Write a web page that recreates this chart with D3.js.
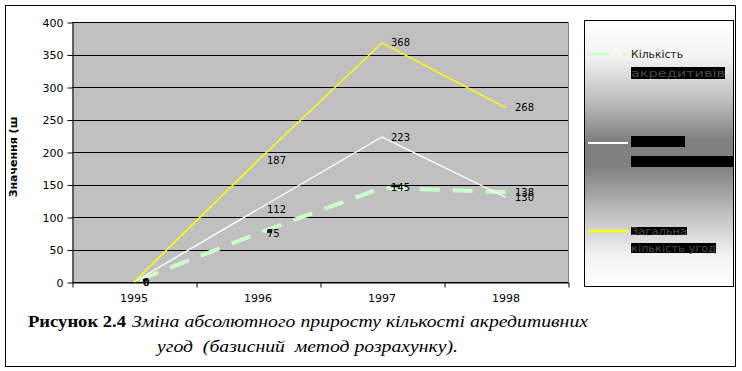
<!DOCTYPE html>
<html><head><meta charset="utf-8">
<script src="https://cdn.jsdelivr.net/npm/d3@7"></script>
<style>body{margin:0;background:#fff}svg{display:block}</style>
</head><body>
<script>
const years = ["1995","1996","1997","1998"];
const seriesGreen = [0, 75, 145, 138];
const seriesWhite = [0, 112, 223, 130];
const seriesYellow = [0, 187, 368, 268];
const yTicks = [0,50,100,150,200,250,300,350,400];
const legendLines = [["Кількість","акредитивів"],["Сума","акредитивів"],["Загальна","кількість угод"]];
const yTitle = "Значення (ш";
const caption1a = "Рисунок 2.4";
const caption1b = "Зміна абсолютного приросту кількості акредитивних";
const caption2 = "угод  (базисний  метод розрахунку).";

const W=742,H=371;
const svg=d3.select("body").append("svg").attr("width",W).attr("height",H);
const defs=svg.append("defs");
const g=defs.append("linearGradient").attr("id","lg").attr("x1",0).attr("y1",0).attr("x2",0).attr("y2",1);
[[0,"#ffffff"],[0.14,"#f2f2f2"],[0.3,"#bdbdbd"],[0.45,"#808080"],[0.55,"#808080"],[0.72,"#bdbdbd"],[0.88,"#f2f2f2"],[1,"#ffffff"]]
 .forEach(([o,c])=>g.append("stop").attr("offset",o).attr("stop-color",c));

// outer border
svg.append("rect").attr("x",5.5).attr("y",5.5).attr("width",730).attr("height",361).attr("fill","#fff").attr("stroke","#000");

const x=d3.scaleBand().domain(years).range([72,568]);
const xEdge=d3.scaleLinear().domain([0,4]).range([72,568]);
const y=d3.scaleLinear().domain([0,400]).range([282,22]);

// plot area
svg.append("rect").attr("x",72).attr("y",22).attr("width",496).attr("height",260).attr("fill","#c0c0c0");
svg.append("line").attr("x1",568.5).attr("x2",568.5).attr("y1",22).attr("y2",282).attr("stroke","#808080");
svg.append("g").selectAll("line").data(yTicks).join("line")
  .attr("x1",72).attr("x2",568).attr("y1",d=>Math.round(y(d))+0.5).attr("y2",d=>Math.round(y(d))+0.5).attr("stroke","#000");

const ya=svg.append("g").attr("transform","translate(72.5,0.5)")
  .call(d3.axisLeft(y).tickValues(yTicks).tickSize(5).tickSizeOuter(0).tickPadding(4));
ya.select(".domain").attr("stroke","#000");
ya.selectAll("text").attr("font-family","DejaVu Sans").attr("font-size",11).attr("fill","#000");

svg.append("g").attr("transform","translate(0.5,282.5)")
  .call(d3.axisBottom(xEdge).tickValues([0,1,2,3,4]).tickFormat("").tickSize(5).tickSizeOuter(0));
const xl=svg.append("g").attr("transform","translate(0,282)")
  .call(d3.axisBottom(x).tickSize(0).tickPadding(12));
xl.select(".domain").remove();
xl.selectAll("text").attr("font-family","DejaVu Sans").attr("font-size",11).attr("fill","#000");

svg.append("text").attr("transform","translate(17,157) rotate(-90)").attr("text-anchor","middle")
  .attr("font-family","DejaVu Sans").attr("font-weight","bold").attr("font-size",11).text(yTitle);

const line=d3.line().x((d,i)=>x(years[i])+x.bandwidth()/2).y(d=>y(d));
svg.append("path").datum(seriesGreen).attr("d",line).attr("fill","none").attr("stroke","#ccffcc").attr("stroke-width",4).attr("stroke-dasharray","20,13").attr("stroke-dashoffset",-6);
svg.append("path").datum(seriesWhite).attr("d",line).attr("fill","none").attr("stroke","#ffffff").attr("stroke-width",1.3);
svg.append("path").datum(seriesYellow).attr("d",line).attr("fill","none").attr("stroke","#ffff00").attr("stroke-width",1.5);

// data labels
const lab=svg.append("g").attr("font-family","DejaVu Sans").attr("font-size",10).attr("fill","#000");
[seriesGreen,seriesWhite,seriesYellow].forEach((s)=>{
  s.forEach((v,i)=>{
    const px=x(years[i])+x.bandwidth()/2;
    lab.append("text").attr("x",px+9).attr("y",y(v)).attr("dy","0.35em").text(v);
  });
});
seriesGreen.forEach((v,i)=>{
  const px=x(years[i])+x.bandwidth()/2;
  if(i<3) svg.append("rect").attr("x",px+9).attr("y",y(v)-3).attr("width",i===0?4:(i===2?9:5)).attr("height",2.5).attr("fill","#000");
});

// legend
svg.append("rect").attr("x",584.5).attr("y",20.5).attr("width",149).attr("height",266).attr("fill","url(#lg)").attr("stroke","#000");
const legY=[54,143,231];
const legStyle=[{c:"#ccffcc",w:3,da:"22,12"},{c:"#ffffff",w:2,da:null},{c:"#ffff00",w:2.5,da:null}];
const boxW=[[52,94],[54,102],[56,85]];
const boxY=[[54.5,73],[141.5,161.5],[231,248]];
const boxH=[[9,12],[11,11],[8,10]];
legY.forEach((ly,i)=>{
  const st=legStyle[i];
  const l=svg.append("line").attr("x1",588).attr("x2",628).attr("y1",ly).attr("y2",ly).attr("stroke",st.c).attr("stroke-width",st.w);
  if(st.da) l.attr("stroke-dasharray",st.da);
  legendLines[i].forEach((t,j)=>{
    const ty=boxY[i][j];
    const dark = !(i===0&&j===0);
    if(dark){
      svg.append("rect").attr("x",631).attr("y",ty-boxH[i][j]/2).attr("width",boxW[i][j]).attr("height",boxH[i][j]).attr("fill","#000");
    }
    svg.append("text").attr("x",631).attr("y",ty).attr("dy","0.35em")
      .attr("font-family","DejaVu Sans").attr("font-size",11)
      .attr("textLength",boxW[i][j]).attr("lengthAdjust","spacingAndGlyphs")
      .attr("fill", dark ? (i===1?"#000":"#4a4a4a") : "#222").text(t);
  });
});

// caption
const c1=svg.append("text").attr("y",327).attr("font-family","Liberation Serif").attr("font-size",17);
c1.append("tspan").attr("x",28).attr("font-weight","bold").attr("textLength",98).attr("lengthAdjust","spacingAndGlyphs").text(caption1a);
c1.append("tspan").attr("x",132).attr("font-style","italic").attr("textLength",456).attr("lengthAdjust","spacingAndGlyphs").text(caption1b);
svg.append("text").attr("x",157).attr("y",352).attr("font-family","Liberation Serif").attr("font-size",17).attr("font-style","italic")
  .style("white-space","pre").attr("textLength",301).attr("lengthAdjust","spacingAndGlyphs").text(caption2);
</script>
</body></html>
